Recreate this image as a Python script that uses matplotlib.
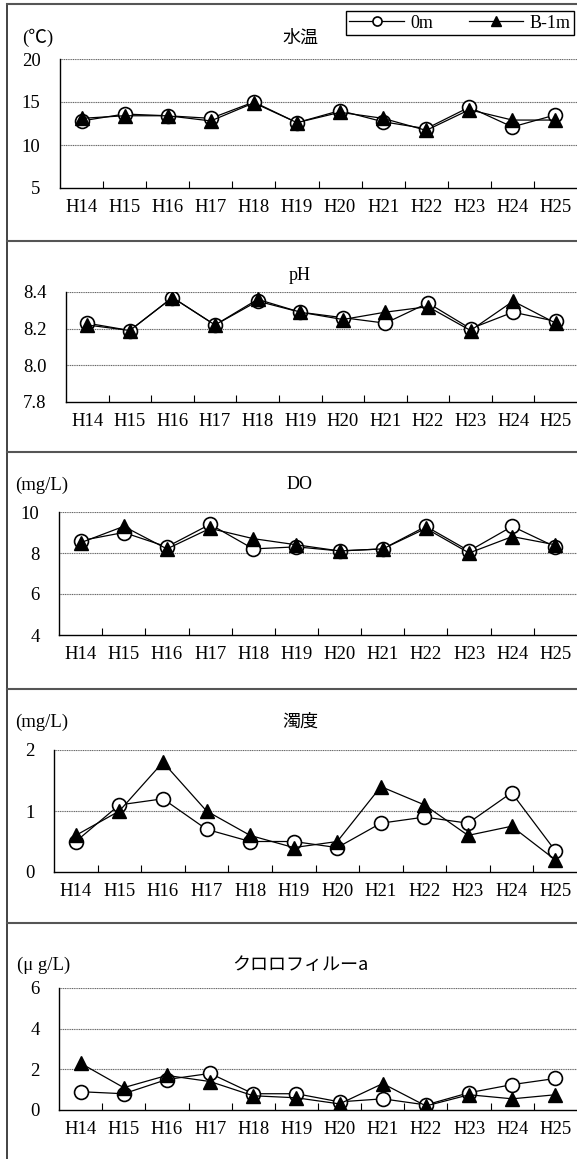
import matplotlib
matplotlib.use("Agg")
import matplotlib.pyplot as plt
from matplotlib.lines import Line2D
import numpy as np

years = ["H14", "H15", "H16", "H17", "H18", "H19", "H20", "H21", "H22", "H23", "H24", "H25"]

temp_0m = [12.8, 13.6, 13.4, 13.1, 15.0, 12.6, 14.0, 12.7, 11.9, 14.4, 12.1, 13.5]
temp_b1 = [13.1, 13.4, 13.4, 12.8, 14.9, 12.6, 13.8, 13.1, 11.7, 14.1, 12.9, 12.9]

ph_0m = [8.23, 8.19, 8.37, 8.22, 8.35, 8.29, 8.26, 8.23, 8.34, 8.20, 8.29, 8.24]
ph_b1 = [8.22, 8.19, 8.37, 8.22, 8.36, 8.29, 8.25, 8.29, 8.32, 8.19, 8.35, 8.23]

do_0m = [8.6, 9.0, 8.3, 9.4, 8.2, 8.3, 8.1, 8.2, 9.3, 8.1, 9.3, 8.3]
do_b1 = [8.5, 9.3, 8.2, 9.2, 8.7, 8.4, 8.1, 8.2, 9.2, 8.0, 8.8, 8.4]

turb_0m = [0.5, 1.1, 1.2, 0.7, 0.5, 0.5, 0.4, 0.8, 0.9, 0.8, 1.3, 0.35]
turb_b1 = [0.6, 1.0, 1.8, 1.0, 0.6, 0.4, 0.5, 1.4, 1.1, 0.6, 0.75, 0.2]

chl_0m = [0.9, 0.8, 1.5, 1.8, 0.8, 0.8, 0.4, 0.55, 0.25, 0.85, 1.25, 1.55]
chl_b1 = [2.3, 1.1, 1.7, 1.4, 0.7, 0.6, 0.3, 1.3, 0.2, 0.75, 0.55, 0.75]

titles = ["水温", "pH", "DO", "濁度", "クロロフィルーa"]
units = ["(℃)", "", "(mg/L)", "(mg/L)", "(μ g/L)"]
yticks_list = [[5, 10, 15, 20], [7.8, 8.0, 8.2, 8.4], [4, 6, 8, 10], [0, 1, 2], [0, 2, 4, 6]]
ytick_fmt = ["{:.0f}", "{:.1f}", "{:.0f}", "{:.0f}", "{:.0f}"]
series = [(temp_0m, temp_b1), (ph_0m, ph_b1), (do_0m, do_b1), (turb_0m, turb_b1), (chl_0m, chl_b1)]
series_names = ["0m", "B-1m"]

W, H = 577, 1159
fig = plt.figure(figsize=(W / 100, H / 100), dpi=100)

serif = ["Liberation Serif", "Noto Sans CJK JP", "DejaVu Sans"]
cjk = ["Noto Sans CJK JP", "DejaVu Sans"]

# pixel layout: (left, top, bottom) of each axes
axes_px = [(60, 59, 188), (66, 292, 402), (59, 512, 635), (54, 750, 872), (59, 988, 1110)]
title_y = [38, 275, 485, 722, 965]
unit_x = [22, 17, 15, 15, 17]

x = np.arange(len(years))
for i, (l, t, b) in enumerate(axes_px):
    ax = fig.add_axes([l / W, 1 - b / H, (W - l) / W, (b - t) / H])
    s0, s1 = series[i]
    ax.plot(x, s0, color="black", lw=0.9, marker="o", ms=10, mfc="white", mec="black", mew=1.2, zorder=3)
    ax.plot(x, s1, color="black", lw=0.9, marker="^", ms=10, mfc="black", mec="black", zorder=4)
    yt = yticks_list[i]
    ax.set_ylim(yt[0], yt[-1])
    ax.set_yticks(yt)
    ax.set_yticklabels([ytick_fmt[i].format(v) for v in yt], family=serif, fontsize=13.5)
    ax.set_xlim(-0.5, len(years) - 0.5)
    ax.set_xticks(x)
    ax.set_xticklabels(years, family=serif, fontsize=13.5)
    ax.set_xticks(np.arange(0.5, len(years) - 0.5, 1.0), minor=True)
    ax.tick_params(axis="x", which="major", length=0, pad=8)
    ax.tick_params(axis="x", which="minor", direction="in", length=5, width=0.8)
    ax.tick_params(axis="y", length=0, pad=14)
    for yv in yt[1:]:
        ax.axhline(yv, color="#666666", lw=0.8, ls=(0, (1, 0.6)), zorder=1)
    ax.spines["top"].set_visible(False)
    ax.spines["right"].set_visible(False)
    ax.spines["left"].set_linewidth(1.0)
    ax.spines["bottom"].set_linewidth(1.0)
    ax.set_facecolor("none")
    fig.text(300 / W, 1 - title_y[i] / H, titles[i], ha="center", va="center",
             family=cjk if i in (0, 3, 4) else serif, fontsize=13)
    if units[i]:
        fig.text(unit_x[i] / W, 1 - title_y[i] / H, units[i], ha="left", va="center",
                 family=serif, fontsize=13.5)

# frame lines
line_color = "#555555"
fig.add_artist(Line2D([7 / W, 7 / W], [0, 1 - 4 / H], color="#222222", lw=1.2))
for yy in [4, 241, 452, 689, 923]:
    fig.add_artist(Line2D([7 / W, 1], [1 - yy / H, 1 - yy / H], color=line_color, lw=1.5))

handles = [
    Line2D([], [], color="black", lw=0.9, marker="o", ms=6.5, mfc="white", mec="black", mew=1.2),
    Line2D([], [], color="black", lw=0.9, marker="^", ms=6.5, mfc="black", mec="black"),
]
leg = fig.legend(handles, series_names, loc="upper right", bbox_to_anchor=(574 / W, 1 - 11 / H),
                 ncol=2, frameon=True, fancybox=False, edgecolor="black", framealpha=1,
                 prop={"family": serif, "size": 13}, handlelength=3.0, columnspacing=2.0,
                 borderpad=0.2, handletextpad=0.35, borderaxespad=0)
leg.get_frame().set_linewidth(1.0)

fig.savefig("out.png", dpi=100, facecolor="white")
